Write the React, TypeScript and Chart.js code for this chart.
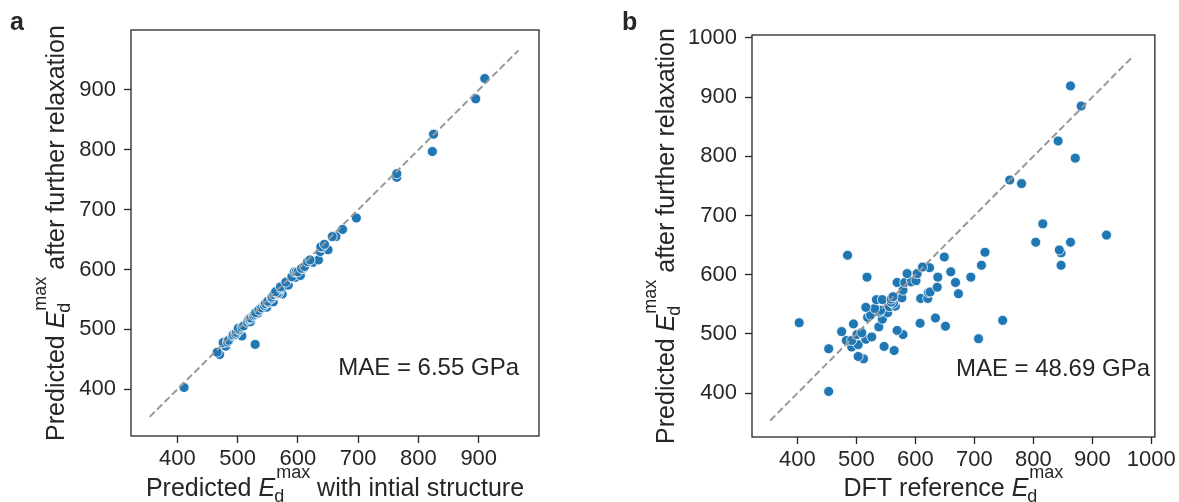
import React, { useEffect, useRef } from "react";
import { Chart, registerables } from "chart.js";

Chart.register(...registerables);

const FONT = "'Liberation Sans', Arial, Helvetica, sans-serif";
const INK = "#262626";
const DOT = "#1f77b4";

// Predicted E_d^max after further relaxation (shared y values of both panels)
const relaxedPred = [
  403, 458, 462, 472, 475, 478, 479, 482, 489, 489, 491, 492, 495, 499, 499, 502, 504, 506, 512, 513,
  517, 518, 519, 523, 525, 527, 528, 532, 536, 537, 540, 543, 545, 546, 547, 552, 554, 558, 558, 559,
  560, 560, 561, 563, 568, 570, 571, 574, 579, 587, 587, 587, 588, 590, 596, 596, 596, 602, 602, 605,
  612, 613, 616, 616, 630, 633, 637, 638, 642, 655, 655, 667, 686, 754, 760, 797, 826, 885, 919,
];
// Panel a x: predicted E_d^max with initial structure
const initialPred = [
  411, 470, 466, 480, 529, 476, 483, 485, 507, 491, 493, 497, 498, 503, 502, 501, 507, 510, 516, 521,
  518, 520, 522, 526, 528, 533, 530, 535, 540, 548, 544, 546, 551, 559, 550, 556, 557, 562, 560, 574,
  565, 568, 566, 563, 572, 574, 571, 584, 580, 590, 592, 596, 590, 604, 594, 597, 600, 609, 606, 611,
  625, 616, 634, 620, 637, 650, 640, 638, 644, 663, 657, 674, 697, 764, 764, 823, 825, 895, 910,
];
// Panel b x: DFT reference E_d^max
const dftRef = [
  453, 512, 503, 564, 453, 492, 547, 503, 483, 492, 516, 707, 526, 501, 579, 509, 475, 569, 538, 651,
  495, 608, 403, 748, 544, 634, 519, 524, 553, 539, 541, 531, 516, 556, 566, 563, 559, 534, 544, 559,
  609, 621, 577, 562, 673, 622, 625, 579, 637, 569, 582, 668, 593, 601, 518, 638, 694, 586, 603, 660,
  624, 612, 712, 847, 649, 485, 847, 718, 844, 804, 863, 924, 816, 780, 760, 871, 842, 881, 863,
];

const ticksA = [400, 500, 600, 700, 800, 900];
const ticksB = [400, 500, 600, 700, 800, 900, 1000];
const diagA = [354, 966];
const diagB = [354, 970];
const maeA = "MAE = 6.55 GPa";
const maeB = "MAE = 48.69 GPa";

type PanelCfg = {
  letter: string;
  xs: number[];
  ys: number[];
  diag: number[];
  ticksX: number[];
  ticksY: number[];
  xRange: [number, number];
  yRange: [number, number];
  xPrefix: string;
  xSuffix: string;
  mae: string;
  width: number;
  yAxisW: number;
  xAxisH: number;
  padRight: number;
  padTop: number;
  yTitleX: number;
  letterX: number;
  maeRight: number;
  maeBase: number;
};

const TITLE_SIZE = 25;

function mathLabel(
  ctx: CanvasRenderingContext2D,
  prefix: string,
  suffix: string,
  cx: number,
  baseY: number,
  size: number
) {
  const big = `${size}px ${FONT}`;
  const ital = `italic ${size}px ${FONT}`;
  const small = `${Math.round(size * 0.7)}px ${FONT}`;
  ctx.font = big;
  const w1 = ctx.measureText(prefix).width;
  const w4 = suffix ? ctx.measureText(suffix).width : 0;
  ctx.font = ital;
  const wE = ctx.measureText("E").width;
  ctx.font = small;
  const wS = Math.max(ctx.measureText("max").width, ctx.measureText("d").width) + 1;
  const total = w1 + wE + wS + w4;
  let x = cx - total / 2;
  ctx.textAlign = "left";
  ctx.textBaseline = "alphabetic";
  ctx.fillStyle = INK;
  ctx.font = big;
  ctx.fillText(prefix, x, baseY);
  x += w1;
  ctx.font = ital;
  ctx.fillText("E", x, baseY);
  x += wE;
  ctx.font = small;
  ctx.fillText("max", x + 1, baseY - size * 0.72);
  ctx.fillText("d", x - 1, baseY + size * 0.25);
  x += wS;
  if (suffix) {
    ctx.font = big;
    ctx.fillText(suffix, x, baseY);
  }
}

const yPrefix = "Predicted ";
const ySuffix = " after further relaxation";

function makeDecor(p: PanelCfg) {
  return {
    id: "decor" + p.letter,
    afterDraw(chart: any) {
      const ctx: CanvasRenderingContext2D = chart.ctx;
      const a = chart.chartArea;
      ctx.save();
      // frame
      ctx.strokeStyle = INK;
      ctx.lineWidth = 1.3;
      ctx.strokeRect(a.left, a.top, a.right - a.left, a.bottom - a.top);
      // MAE
      ctx.fillStyle = INK;
      ctx.font = `24px ${FONT}`;
      ctx.textAlign = "right";
      ctx.textBaseline = "alphabetic";
      ctx.fillText(p.mae, p.maeRight, p.maeBase);
      // panel letter
      ctx.font = `bold 25px ${FONT}`;
      ctx.textAlign = "left";
      ctx.fillText(p.letter, p.letterX, 30);
      // x title
      mathLabel(ctx, p.xPrefix, p.xSuffix, (a.left + a.right) / 2, 496, TITLE_SIZE);
      // y title
      ctx.save();
      ctx.translate(p.yTitleX, (a.top + a.bottom) / 2);
      ctx.rotate(-Math.PI / 2);
      mathLabel(ctx, yPrefix, ySuffix, 0, 0, TITLE_SIZE);
      ctx.restore();
      ctx.restore();
    },
  };
}

function buildConfig(p: PanelCfg): any {
  const pts = p.xs.map((x, i) => ({ x, y: p.ys[i] }));
  const line = p.diag.map((v) => ({ x: v, y: v }));
  const axisCommon = (ticks: number[], range: [number, number]) => ({
    type: "linear",
    min: range[0],
    max: range[1],
    afterBuildTicks: (axis: any) => {
      axis.ticks = ticks.map((v) => ({ value: v }));
    },
    grid: {
      display: true,
      drawOnChartArea: false,
      drawTicks: true,
      tickLength: 7,
      tickWidth: 1.3,
      tickColor: INK,
    },
    border: { display: false },
    title: { display: false },
  });
  const fmt = (v: any) => String(v);
  return {
    type: "scatter",
    data: {
      datasets: [
        {
          type: "line",
          data: line,
          borderColor: "#999999",
          borderWidth: 2,
          borderDash: [7, 3.5],
          pointRadius: 0,
          fill: false,
          order: 0,
        },
        {
          type: "scatter",
          data: pts,
          pointRadius: 5,
          pointBackgroundColor: DOT,
          pointBorderColor: "#ffffff",
          pointBorderWidth: 0.8,
          order: 1,
        },
      ],
    },
    options: {
      animation: false,
      responsive: false,
      devicePixelRatio: 1,
      layout: { padding: { left: 0, right: p.padRight, top: p.padTop, bottom: 0 } },
      plugins: { legend: { display: false }, tooltip: { enabled: false } },
      scales: {
        x: {
          ...axisCommon(p.ticksX, p.xRange),
          position: "bottom",
          ticks: { color: INK, font: { family: FONT, size: 22 }, padding: 3, maxRotation: 0, callback: fmt },
          afterFit: (s: any) => {
            s.height = p.xAxisH;
          },
        },
        y: {
          ...axisCommon(p.ticksY, p.yRange),
          position: "left",
          ticks: { color: INK, font: { family: FONT, size: 22 }, padding: 8, callback: fmt },
          afterFit: (s: any) => {
            s.width = p.yAxisW;
          },
        },
      },
    },
    plugins: [makeDecor(p)],
  };
}

const panelA: PanelCfg = {
  letter: "a",
  xs: initialPred,
  ys: relaxedPred,
  diag: diagA,
  ticksX: ticksA,
  ticksY: ticksA,
  xRange: [323, 1000],
  yRange: [322, 1000],
  xPrefix: "Predicted ",
  xSuffix: " with intial structure",
  mae: maeA,
  width: 560,
  yAxisW: 131,
  xAxisH: 66,
  padRight: 21,
  padTop: 30,
  yTitleX: 64,
  letterX: 10,
  maeRight: 519,
  maeBase: 375,
};

const panelB: PanelCfg = {
  letter: "b",
  xs: dftRef,
  ys: relaxedPred,
  diag: diagB,
  ticksX: ticksB,
  ticksY: ticksB,
  xRange: [323, 1006],
  yRange: [326, 1005],
  xPrefix: "DFT reference ",
  xSuffix: "",
  mae: maeB,
  width: 619,
  yAxisW: 192,
  xAxisH: 65,
  padRight: 22,
  padTop: 35,
  yTitleX: 114,
  letterX: 62,
  maeRight: 590,
  maeBase: 376,
};

function Panel({ cfg, left }: { cfg: PanelCfg; left: number }) {
  const ref = useRef<HTMLCanvasElement | null>(null);
  useEffect(() => {
    if (!ref.current) return;
    const chart = new Chart(ref.current, buildConfig(cfg));
    return () => chart.destroy();
  }, [cfg]);
  return (
    <canvas
      ref={ref}
      width={cfg.width}
      height={502}
      style={{ position: "absolute", left, top: 0, width: cfg.width, height: 502 }}
    />
  );
}

export default function App() {
  return (
    <div
      style={{
        position: "absolute",
        left: 0,
        top: 0,
        width: 1179,
        height: 502,
        background: "#ffffff",
        overflow: "hidden",
      }}
    >
      <Panel cfg={panelA} left={0} />
      <Panel cfg={panelB} left={560} />
    </div>
  );
}
